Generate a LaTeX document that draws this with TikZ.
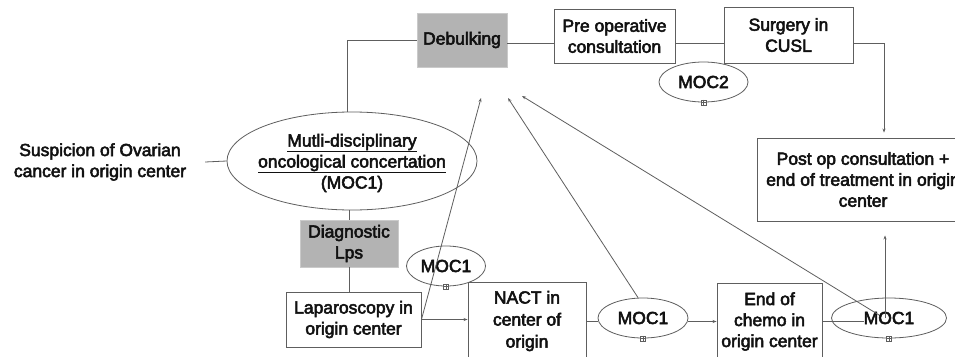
\documentclass[tikz,border=0pt]{standalone}
\usepackage{fontspec}
\setmainfont{Liberation Sans}
\newfontfamily\mfont{Liberation Sans}[FakeBold=3]
\usetikzlibrary{shapes.geometric,arrows.meta,calc}
\definecolor{lc}{HTML}{5E5E5E}
\definecolor{tc}{HTML}{111111}
\definecolor{gf}{HTML}{B3B3B3}
\begin{document}
\begin{tikzpicture}[x=1pt,y=-1pt,
  font=\mfont\fontsize{17.5}{21}\selectfont, text=tc,
  box/.style={draw=lc, rectangle, inner sep=0pt, align=center, line width=0.9pt},
  gbox/.style={rectangle, inner sep=0pt, align=center, fill=gf, draw=gf!70!white, line width=0.9pt},
  oval/.style={draw=lc, ellipse, inner sep=0pt, align=center, line width=0.8pt},
  conn/.style={draw=lc, line width=0.8pt},
  arr/.style={conn, -{Stealth[length=4pt,width=3pt]}},
  expander/.style={draw=lc, rectangle, minimum size=5pt, inner sep=0pt, fill=white, line width=0.5pt,
    path picture={\draw[lc, line width=0.4pt] (path picture bounding box.north) -- (path picture bounding box.south)
      (path picture bounding box.west) -- (path picture bounding box.east);}}
]
\clip (0,0) rectangle (955,356);
\fill[white] (0,0) rectangle (955,356);

% nodes
\node[align=center, minimum width=210pt, inner sep=0pt] (susp) at (100,162) {Suspicion of Ovarian\\cancer in origin center};
\node[oval, minimum width=250pt, minimum height=98pt] (moc) at (352,161) {};
\node[align=center, inner sep=0pt] (moctext) at (352,163) {\underline{Mutli-disciplinary}\\\underline{oncological concertation}\\(MOC1)};

\node[gbox, minimum width=90pt, minimum height=54pt] (debulk) at (462,40) {Debulking};
\node[box, minimum width=121pt, minimum height=54pt] (preop) at (614.5,36) {Pre operative\\consultation};
\node[box, minimum width=129pt, minimum height=56pt] (surg) at (788.5,35) {Surgery in\\CUSL};
\node[oval, minimum width=89pt, minimum height=40pt] (moc2) at (703.5,82) {MOC2};
\node[box, minimum width=212pt, minimum height=83pt] (postop) at (863,179.5) {Post op consultation +\\end of treatment in origin\\center};

\node[gbox, minimum width=98pt, minimum height=47pt] (diag) at (349,243.5) {Diagnostic\\Lps};
\node[box, minimum width=135pt, minimum height=55pt] (lap) at (353.5,319.5) {Laparoscopy in\\origin center};
\node[oval, minimum width=79pt, minimum height=40pt] (mocA) at (446,266) {MOC1};
\node[box, minimum width=118pt, minimum height=78pt, font=\mfont\fontsize{17.5}{22}\selectfont] (nact) at (527,321) {NACT in\\center of\\origin};
\node[oval, minimum width=90pt, minimum height=40pt] (mocB) at (643,318) {MOC1};
\node[box, minimum width=105pt, minimum height=77pt] (endc) at (769.5,321.5) {End of\\chemo in\\origin center};
\node[oval, minimum width=115pt, minimum height=40pt] (mocC) at (889,318) {MOC1};

% expanders
\node[expander] (ex2) at (moc2.south) {};
\node[expander] (exA) at (mocA.south) {};
\node[expander] (exB) at (mocB.south) {};
\node[expander] (exC) at (mocC.south) {};

% free arrow ends
\coordinate (t1) at (481,98);
\coordinate (t2) at (508,98);
\coordinate (t3) at (522,96);

% connectors
\draw[conn] (susp.east) -- (moc.west);
\draw[conn] ([xshift=-5pt]moc.north) |- (debulk.west);
\draw[conn] (debulk.east |- 0,43) -- (preop.west |- 0,43);
\draw[conn] (preop.east |- 0,43) -- (surg.west |- 0,43);
\draw[arr, shorten >=5pt] (surg.east |- 0,43) -| ([xshift=21pt]postop.north);
\draw[conn] (moc.south -| diag.north) -- (diag.north);
\draw[conn] (diag.south) -- (diag.south |- lap.north);
\draw[arr] (lap.east) -- (lap.east -| nact.west);
\draw[conn] (nact.east) -- (nact.east -| mocB.west);
\draw[arr] (mocB.east |- endc.west) -- (endc.west);
\draw[conn] (endc.east) -- (endc.east -| mocC.text);
\draw[arr, shorten >=14pt] ([xshift=-4pt]mocC.center) -- ([xshift=-4pt]mocC.center |- postop.south);

\draw[arr] (lap.east) -- (t1);
\draw[arr] ([xshift=-5pt]mocB.north) -- (t2);
\draw[arr] ([xshift=-10pt,yshift=3pt]mocC.center) -- (t3);
\end{tikzpicture}
\end{document}
